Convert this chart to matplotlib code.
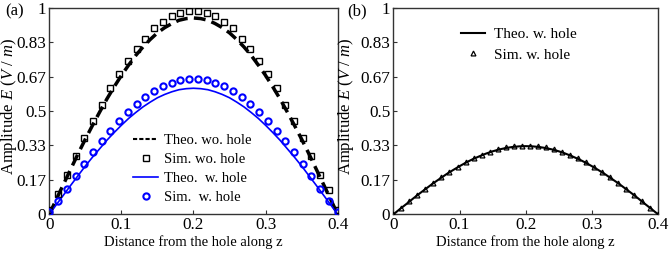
import matplotlib
matplotlib.use("Agg")
import matplotlib.pyplot as plt
from matplotlib.lines import Line2D

plt.rcParams['font.family'] = ['Liberation Serif', 'DejaVu Serif']
plt.rcParams['mathtext.fontset'] = 'custom'
plt.rcParams['mathtext.rm'] = 'Liberation Serif'
plt.rcParams['mathtext.it'] = 'Liberation Serif:italic'

# ---- data ----
z_theo = [0.00, 0.01, 0.02, 0.03, 0.04, 0.05, 0.06, 0.07, 0.08, 0.09, 0.10,
          0.11, 0.12, 0.13, 0.14, 0.15, 0.16, 0.17, 0.18, 0.19, 0.20,
          0.21, 0.22, 0.23, 0.24, 0.25, 0.26, 0.27, 0.28, 0.29, 0.30,
          0.31, 0.32, 0.33, 0.34, 0.35, 0.36, 0.37, 0.38, 0.39, 0.40]
_half_wo = [0.0, 0.075, 0.148, 0.221, 0.294, 0.364, 0.431, 0.496, 0.559, 0.617, 0.672,
            0.722, 0.769, 0.810, 0.846, 0.878, 0.903, 0.923, 0.939, 0.947, 0.950]
theo_wo = _half_wo + _half_wo[-2::-1]
_half_w = [0.0, 0.048, 0.095, 0.142, 0.188, 0.234, 0.277, 0.318, 0.359, 0.396, 0.431,
           0.464, 0.493, 0.520, 0.543, 0.564, 0.580, 0.593, 0.603, 0.608, 0.610]
theo_w = _half_w + _half_w[-2::-1]
_half_b = [0.0, 0.026, 0.051, 0.077, 0.102, 0.126, 0.150, 0.172, 0.194, 0.214, 0.233,
           0.251, 0.267, 0.281, 0.294, 0.305, 0.314, 0.321, 0.326, 0.329, 0.330]
theo_b = _half_b + _half_b[-2::-1]

z_sim = [0.0000, 0.0121, 0.0242, 0.0364, 0.0485, 0.0606, 0.0727, 0.0848, 0.0970,
         0.1091, 0.1212, 0.1333, 0.1455, 0.1576, 0.1697, 0.1818, 0.1939, 0.2061,
         0.2182, 0.2303, 0.2424, 0.2545, 0.2667, 0.2788, 0.2909, 0.3030, 0.3152,
         0.3273, 0.3394, 0.3515, 0.3636, 0.3758, 0.3879, 0.4000]
sim_wo = [0.02, 0.10, 0.19, 0.28, 0.37, 0.45, 0.53, 0.61, 0.68, 0.74, 0.80, 0.85,
          0.90, 0.93, 0.96, 0.975, 0.985, 0.985, 0.975, 0.96, 0.93, 0.90, 0.85,
          0.80, 0.74, 0.68, 0.61, 0.53, 0.45, 0.37, 0.28, 0.19, 0.12, 0.02]
sim_w = [0.01, 0.065, 0.125, 0.185, 0.245, 0.30, 0.355, 0.405, 0.45, 0.495, 0.535,
         0.57, 0.595, 0.62, 0.635, 0.65, 0.655, 0.655, 0.65, 0.635, 0.62, 0.595,
         0.57, 0.535, 0.495, 0.45, 0.405, 0.355, 0.30, 0.245, 0.185, 0.125, 0.065, 0.01]
sim_b = [0.0, 0.032, 0.063, 0.094, 0.124, 0.153, 0.180, 0.206, 0.230, 0.252, 0.271,
         0.288, 0.303, 0.315, 0.324, 0.330, 0.333, 0.333, 0.330, 0.324, 0.315, 0.303,
         0.288, 0.271, 0.252, 0.230, 0.206, 0.180, 0.153, 0.124, 0.094, 0.063, 0.032, 0.0]

yticks = [0, 1/6, 2/6, 3/6, 4/6, 5/6, 1]
ytick_labels = ['0', '0.17', '0.33', '0.5', '0.67', '0.83', '1']
xticks = [0, 0.1, 0.2, 0.3, 0.4]
xtick_labels = ['0', '0.1', '0.2', '0.3', '0.4']

fig = plt.figure(figsize=(6.69, 2.54), dpi=100)
axa = fig.add_axes([0.0737, 0.156, 0.431, 0.814])
axb = fig.add_axes([0.588, 0.156, 0.3957, 0.814])

spine_col = '#333333'
for ax, lx in ((axa, -0.104), (axb, -0.14)):
    ax.set_xlim(0, 0.4)
    ax.set_ylim(0, 1)
    ax.set_xticks(xticks)
    ax.set_xticklabels(xtick_labels)
    ax.set_yticks(yticks)
    ax.set_yticklabels(ytick_labels)
    ax.tick_params(direction='in', length=3, width=0.8, labelsize=12.3,
                   color=spine_col, pad=2.2)
    for s in ax.spines.values():
        s.set_color(spine_col)
        s.set_linewidth(1.0)
    ax.set_xlabel('Distance from the hole along z', fontsize=10.5, labelpad=1)
    ax.set_ylabel('Amplitude $E$ ($V$ / $m$)', fontsize=12)
    ax.yaxis.set_label_coords(lx, 0.52)

# panel (a)
axa.plot(z_theo, theo_wo, color='black', lw=2.5, ls=(0, (3.4, 1.8)), zorder=2)
axa.plot(z_sim, sim_wo, ls='none', marker='s', ms=3.8, mfc='none', mec='black',
         mew=1.0, zorder=3)
axa.plot(z_theo, theo_w, color='blue', lw=1.2, zorder=2)
axa.plot(z_sim, sim_w, ls='none', marker='o', ms=4.5, mfc='none', mec='blue',
         mew=1.5, zorder=3)
handles_a = [
    Line2D([], [], color='black', lw=1.5, ls=(0, (2, 1))),
    Line2D([], [], ls='none', marker='s', ms=3.8, mfc='none', mec='black', mew=1.0),
    Line2D([], [], color='blue', lw=1.2),
    Line2D([], [], ls='none', marker='o', ms=4.5, mfc='none', mec='blue', mew=1.5),
]
labels_a = ['Theo. wo. hole', 'Sim. wo. hole', 'Theo.  w. hole', 'Sim.  w. hole']
axa.legend(handles_a, labels_a, loc='upper left', bbox_to_anchor=(0.29, 0.39),
           frameon=False, fontsize=10.5, handlelength=1.75, handletextpad=0.35,
           labelspacing=0.4, borderpad=0, borderaxespad=0)
fig.text(0.008, 0.955, '(a)', fontsize=12, ha='left', va='center')

# panel (b)
axb.plot(z_theo, theo_b, color='black', lw=1.5, zorder=2)
axb.plot(z_sim, sim_b, ls='none', marker='^', ms=3.5, mfc='none', mec='black',
         mew=0.9, zorder=3)
handles_b = [
    Line2D([], [], color='black', lw=1.5),
    Line2D([], [], ls='none', marker='^', ms=3.5, mfc='none', mec='black', mew=0.9),
]
labels_b = ['Theo. w. hole', 'Sim. w. hole']
axb.legend(handles_b, labels_b, loc='upper left', bbox_to_anchor=(0.255, 0.905),
           frameon=False, fontsize=11, handlelength=1.55, handletextpad=0.6,
           labelspacing=0.45, borderpad=0, borderaxespad=0)
fig.text(0.519, 0.955, '(b)', fontsize=12, ha='left', va='center')

fig.savefig('out.png', dpi=100)
